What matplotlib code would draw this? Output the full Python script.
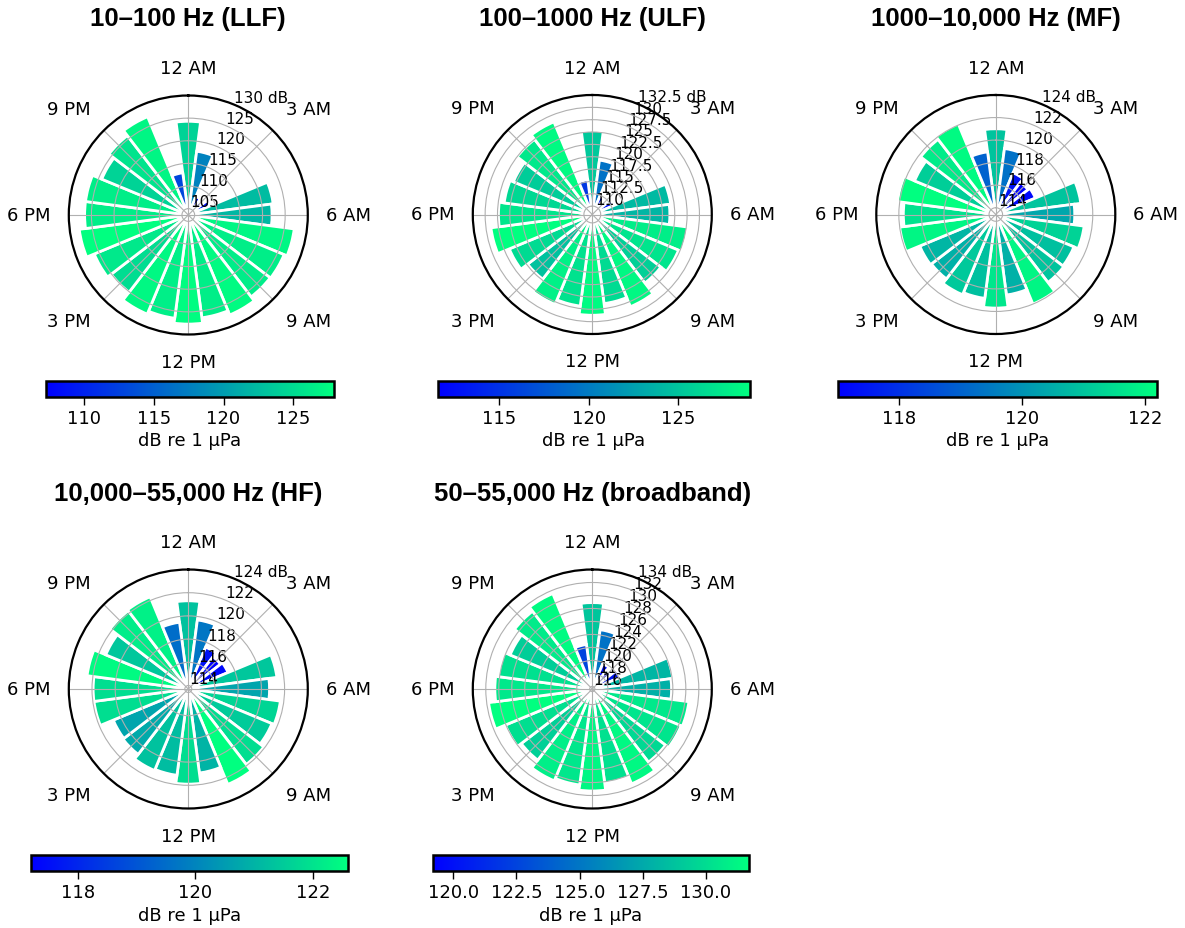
import numpy as np
import matplotlib
matplotlib.use("Agg")
import matplotlib.pyplot as plt
from matplotlib import cm, colors

W, H = 1185, 929
hours = list(range(24))
hour_labels = ['12 AM', '3 AM', '6 AM', '9 AM', '12 PM', '3 PM', '6 PM', '9 PM']

titles = ['10–100 Hz (LLF)', '100–1000 Hz (ULF)', '1000–10,000 Hz (MF)',
          '10,000–55,000 Hz (HF)', '50–55,000 Hz (broadband)']

llf = [124.3, 117.8, 108.0, 107.3, 108.8, 122.5, 122.1, 127.2, 126.5, 126.4, 127.5, 126.5,
       127.7, 126.6, 127.3, 125.1, 126.1, 127.9, 126.5, 126.5, 124.3, 125.7, 127.1, 113.0]
ulf = [125.3, 119.4, 112.3, 111.6, 113.0, 124.3, 124.0, 127.8, 127.2, 125.8, 128.5, 126.5,
       128.7, 127.0, 128.0, 124.8, 126.5, 129.0, 127.3, 126.3, 125.6, 127.5, 128.6, 115.4]
mf = [121.0, 119.3, 117.4, 117.0, 117.2, 121.0, 120.4, 121.3, 120.9, 121.0, 122.0, 120.6,
      121.7, 120.9, 121.1, 120.6, 120.7, 122.0, 121.6, 122.2, 121.2, 121.8, 122.1, 119.0]
hf = [121.3, 119.7, 117.6, 117.2, 117.4, 121.4, 120.7, 121.7, 121.5, 121.9, 122.6, 121.0,
      121.9, 121.2, 121.3, 120.8, 120.7, 121.9, 121.9, 122.5, 121.4, 122.2, 122.3, 119.5]
broadband = [128.9, 124.8, 119.8, 119.2, 120.3, 128.1, 127.8, 130.6, 130.4, 129.8, 131.4, 130.2,
             131.3, 130.5, 130.9, 129.4, 130.1, 131.7, 130.6, 130.2, 129.3, 130.7, 131.5, 122.5]
series = [llf, ulf, mf, hf, broadband]

r_limits = [(103.6, 130), (108.3, 132.5), (113.4, 124), (113.7, 124), (115.6, 134)]
r_ticks = [[105, 110, 115, 120, 125, 130],
           [110, 112.5, 115, 117.5, 120, 122.5, 125, 127.5, 130, 132.5],
           [114, 116, 118, 120, 122, 124],
           [114, 116, 118, 120, 122, 124],
           [116, 118, 120, 122, 124, 126, 128, 130, 132, 134]]

# layout in pixels: polar centre (x, y), radius; colorbar (left, right, top, height)
centers = [(188.3, 216), (592.3, 215.5), (995.8, 215.5), (188.3, 690), (592.3, 690)]
radius = 119.5
cbar_boxes = [(46, 334, 381.5, 16), (438, 750, 381.5, 16), (838, 1157, 381.5, 16),
              (31, 348, 856, 16), (433, 749, 856, 16)]
title_y = [19, 19, 19, 494, 494]


def rect(left, top, w, h):
    return [left / W, 1 - (top + h) / H, w / W, h / H]


plt.rcParams['font.family'] = ['DejaVu Sans']
fig = plt.figure(figsize=(W / 100, H / 100), dpi=100)
fig.patch.set_facecolor('white')
cmap = matplotlib.colormaps['winter']

theta = np.deg2rad(np.array(hours) * 15.0)
width = 2 * np.pi / 24

aligns = [('center', 'bottom'), ('left', 'bottom'), ('left', 'center'), ('left', 'top'),
          ('center', 'top'), ('right', 'top'), ('right', 'center'), ('right', 'bottom')]

for i, vals in enumerate(series):
    vals = np.asarray(vals, dtype=float)
    cx, cy = centers[i]
    ax = fig.add_axes(rect(cx - radius, cy - radius, 2 * radius, 2 * radius), projection='polar')
    ax.set_theta_zero_location('N')
    ax.set_theta_direction(-1)
    rmin, rmax = r_limits[i]
    norm = colors.Normalize(vmin=vals.min(), vmax=vals.max())
    ax.bar(theta, vals - rmin, width=width, bottom=rmin, color=cmap(norm(vals)),
           edgecolor='white', linewidth=2.0)
    ax.set_ylim(rmin, rmax)
    ax.set_yticks(r_ticks[i])
    labs = [('%g' % t) for t in r_ticks[i]]
    labs[-1] = labs[-1] + ' dB'
    ax.set_yticklabels(labs, fontsize=11)
    ax.set_rlabel_position(22.5)
    ax.set_xticks(np.deg2rad(np.arange(0, 360, 45)))
    ax.set_xticklabels(hour_labels, fontsize=13)
    ax.tick_params(axis='x', pad=6, length=0)
    for lab, (ha, va) in zip(ax.get_xticklabels(), aligns):
        lab.set_ha(ha)
        lab.set_va(va)
    ax.spines['polar'].set_linewidth(1.6)
    ax.grid(True, color='#b0b0b0', linewidth=0.8)

    fig.text(cx / W, 1 - title_y[i] / H, titles[i], ha='center', va='center',
             fontsize=18.5, fontweight='bold', family='Liberation Sans')

    l, r, t, h = cbar_boxes[i]
    cax = fig.add_axes(rect(l, t, r - l, h))
    sm = cm.ScalarMappable(norm=norm, cmap=cmap)
    cb = fig.colorbar(sm, cax=cax, orientation='horizontal')
    cb.outline.set_linewidth(1.8)
    cb.ax.tick_params(labelsize=13, length=5.5, width=1.0)
    cb.set_label('dB re 1 μPa', fontsize=13, labelpad=3)

fig.savefig('out.png', dpi=100, facecolor='white')
